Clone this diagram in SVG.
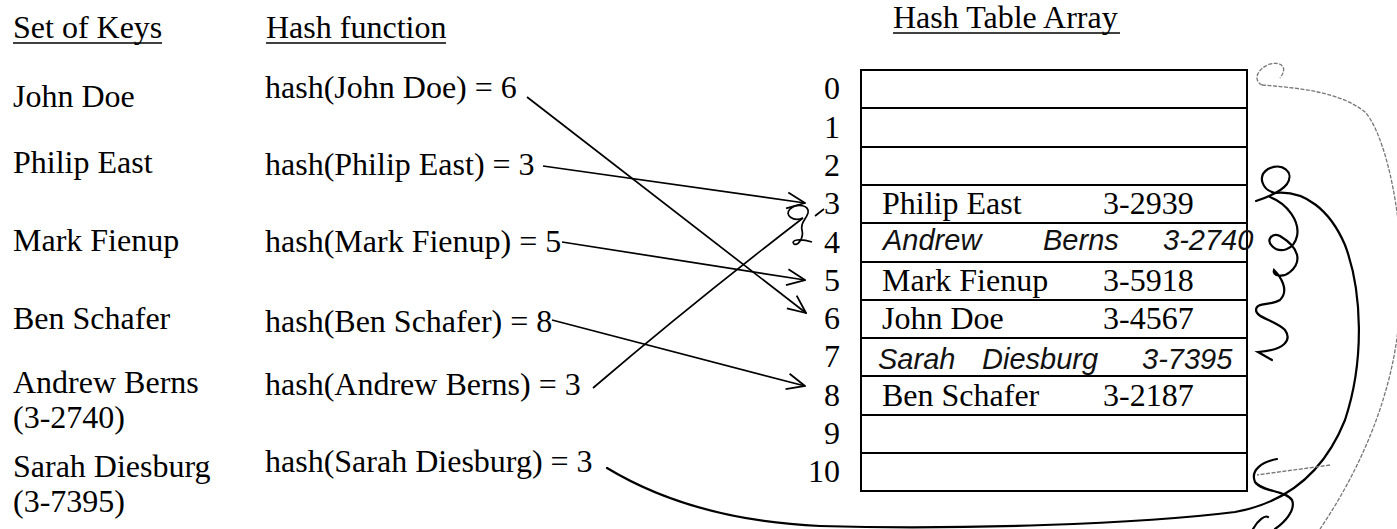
<svg xmlns="http://www.w3.org/2000/svg" width="1397" height="529" viewBox="0 0 1397 529">
<defs>
<style>
.t{font-family:"Liberation Serif","Times New Roman",serif;font-size:32px;fill:#000}
.n{font-family:"Liberation Serif","Times New Roman",serif;font-size:32px;fill:#000;text-anchor:end}
.hw{font-family:"Liberation Sans",Arial,sans-serif;font-style:italic;font-size:29px;fill:#111}
.ul{stroke:#000;stroke-width:1.6}
.cell{fill:#fff;stroke:#000;stroke-width:2}
.c{fill:none;stroke:#000;stroke-width:1.7}
.thick{fill:none;stroke:#000;stroke-width:2.2;stroke-linecap:round}
.thin{fill:none;stroke:#777;stroke-width:1.3;stroke-dasharray:4 1.5}
</style>
<marker id="ah" viewBox="0 0 20 20" refX="19" refY="10" markerWidth="20" markerHeight="20" markerUnits="userSpaceOnUse" orient="auto">
<path d="M1,2 L19,10 L1,18" fill="none" stroke="#000" stroke-width="1.8"/>
</marker>
</defs>
<rect width="1397" height="529" fill="#fff"/>

<g id="headers">
<text class="t" x="13" y="38">Set of Keys</text>
<line class="ul" x1="13" y1="43" x2="162" y2="43"/>
<text class="t" x="266" y="38">Hash function</text>
<line class="ul" x1="266" y1="43" x2="446" y2="43"/>
<text class="t" x="893" y="28">Hash Table Array</text>
<line class="ul" x1="893" y1="33" x2="1120" y2="33"/>
</g>

<g id="keys">
<text class="t" x="13" y="107">John Doe</text>
<text class="t" x="13" y="173">Philip East</text>
<text class="t" x="13" y="251">Mark Fienup</text>
<text class="t" x="13" y="329">Ben Schafer</text>
<text class="t" x="13" y="393">Andrew Berns</text>
<text class="t" x="13" y="428">(3-2740)</text>
<text class="t" x="13" y="477">Sarah Diesburg</text>
<text class="t" x="13" y="512">(3-7395)</text>
</g>

<g id="hashes">
<text class="t" x="265" y="98">hash(John Doe) = 6</text>
<text class="t" x="265" y="175">hash(Philip East) = 3</text>
<text class="t" x="265" y="252">hash(Mark Fienup) = 5</text>
<text class="t" x="265" y="332">hash(Ben Schafer) = 8</text>
<text class="t" x="265" y="395">hash(Andrew Berns) = 3</text>
<text class="t" x="265" y="472">hash(Sarah Diesburg) = 3</text>
</g>

<g id="table">
<rect class="cell" x="861" y="70" width="386" height="38"/>
<rect class="cell" x="861" y="108" width="386" height="39"/>
<rect class="cell" x="861" y="147" width="386" height="38"/>
<rect class="cell" x="861" y="185" width="386" height="38"/>
<rect class="cell" x="861" y="223" width="386" height="39"/>
<rect class="cell" x="861" y="262" width="386" height="38"/>
<rect class="cell" x="861" y="300" width="386" height="38"/>
<rect class="cell" x="861" y="338" width="386" height="38"/>
<rect class="cell" x="861" y="376" width="386" height="39"/>
<rect class="cell" x="861" y="415" width="386" height="38"/>
<rect class="cell" x="861" y="453" width="386" height="38"/>
<text class="n" x="840" y="99">0</text>
<text class="n" x="840" y="138">1</text>
<text class="n" x="840" y="176">2</text>
<text class="n" x="840" y="214">3</text>
<text class="n" x="840" y="253">4</text>
<text class="n" x="840" y="291">5</text>
<text class="n" x="840" y="329">6</text>
<text class="n" x="840" y="367">7</text>
<text class="n" x="840" y="406">8</text>
<text class="n" x="840" y="444">9</text>
<text class="n" x="840" y="482">10</text>
<text class="t" x="882" y="214">Philip East</text>
<text class="t" x="1103" y="214">3-2939</text>
<text class="t" x="882" y="291">Mark Fienup</text>
<text class="t" x="1103" y="291">3-5918</text>
<text class="t" x="882" y="329">John Doe</text>
<text class="t" x="1103" y="329">3-4567</text>
<text class="t" x="882" y="406">Ben Schafer</text>
<text class="t" x="1103" y="406">3-2187</text>
<text class="hw" y="250"><tspan x="883">Andrew</tspan><tspan x="1043">Berns</tspan><tspan x="1163">3-2740</tspan></text>
<text class="hw" y="369"><tspan x="878">Sarah</tspan><tspan x="982">Diesburg</tspan><tspan x="1142">3-7395</tspan></text>
</g>

<g id="connectors">
<path class="c" d="M527,97 L806,313" marker-end="url(#ah)"/>
<path class="c" d="M543,166 L805,203" marker-end="url(#ah)"/>
<path class="c" d="M562,242 L805,280" marker-end="url(#ah)"/>
<path class="c" d="M552,320 L805,386" marker-end="url(#ah)"/>
<path class="c" d="M593,388 Q690,305 803,218"/>
<path class="c" d="M803,218 C793,222 784,215 790,209 C797,203 810,205 808,213 C806,220 800,222 802,230 C804,238 798,246 794,244 C790,240 800,238 812,242 M815,216 L824,209"/>
<path class="thick" d="M607,468 C660,500 730,522 820,526 C960,530 1140,524 1235,512 C1290,502 1325,470 1345,420 C1365,360 1362,290 1345,245 C1330,210 1305,190 1275,193"/>
<path class="thick" d="M1275,193 C1262,190 1257,176 1268,169 C1282,162 1295,172 1287,184 C1281,192 1268,197 1256,201"/>
<path class="thick" d="M1270,197 C1288,204 1300,222 1297,236 C1294,250 1280,254 1272,246 C1266,240 1272,232 1280,236 C1300,248 1302,262 1290,272 C1283,278 1272,276 1274,270 C1280,276 1290,290 1280,300 C1270,306 1256,302 1256,310 C1256,318 1275,320 1285,330 C1292,340 1285,350 1258,352 L1272,360"/>
<path class="thin" d="M1262,85 C1300,88 1340,92 1365,112 C1390,140 1410,250 1398,330 C1390,400 1360,470 1320,529"/>
<path class="thin" d="M1262,85 C1252,80 1258,68 1270,64 C1282,61 1288,68 1280,78"/>
<path class="thin" d="M1330,465 L1257,475"/>
<path class="thick" d="M1277,459 C1262,462 1250,470 1255,482 C1262,492 1285,490 1292,500 C1296,510 1285,522 1275,529"/>
<path class="thick" d="M1253,529 C1258,520 1265,515 1268,517"/>
</g>
</svg>
